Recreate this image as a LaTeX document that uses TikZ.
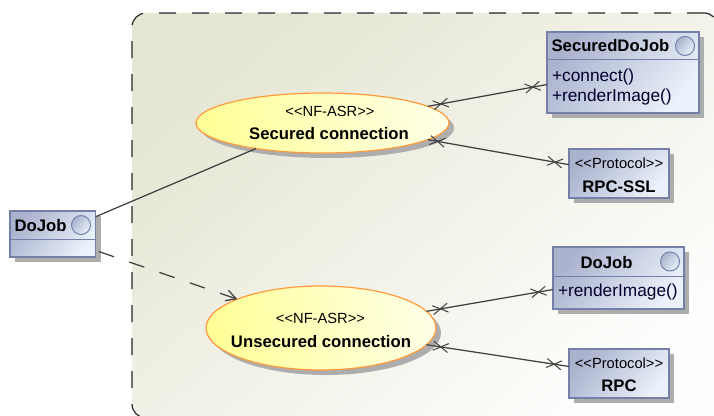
\documentclass[tikz,border=0pt]{standalone}
\usepackage{fontspec}
\setmainfont{Liberation Sans}
\usetikzlibrary{arrows.meta, shapes.geometric, shapes.misc, shadows}

\definecolor{boxdark}{HTML}{AAB2CE}
\definecolor{boxlight}{HTML}{EAF2FB}
\definecolor{boxline}{HTML}{7480A8}
\definecolor{linkcol}{HTML}{404040}
\definecolor{bgdark}{HTML}{E6E6D4}
\definecolor{bgmid}{HTML}{F3F3EA}
\definecolor{bglight}{HTML}{FDFDFC}
\definecolor{casedark}{HTML}{FFFF99}
\definecolor{caselight}{HTML}{FFFFE4}
\definecolor{caseline}{HTML}{FF9A3C}

\tikzset{
  every node/.style={inner sep=0pt, outer sep=0pt},
  boxshadow/.style={drop shadow={shadow xshift=5pt, shadow yshift=-5pt, fill=black!32, opacity=1}},
  classbox/.style={draw=boxline, line width=1.1pt, top color=boxdark, bottom color=boxlight, shading angle=50, boxshadow},
  usecase/.style={ellipse, draw=caseline, line width=1.2pt, left color=casedark, right color=caselight, shading angle=100, boxshadow},
  ballicon/.style={circle, draw=boxline, line width=1pt, minimum size=19pt, top color=boxdark, bottom color=boxlight, shading angle=50},
  tagtext/.style={font=\fontsize{14.7}{18}\selectfont, anchor=base},
  nametext/.style={font=\fontsize{16.7}{20}\selectfont\bfseries, anchor=base},
  titletext/.style={font=\fontsize{16.7}{20}\selectfont\bfseries},
  opstext/.style={font=\fontsize{17.3}{20}\selectfont, text=black!70!blue!60!black, align=left, anchor=west},
  link/.style={draw=linkcol, line width=1.25pt},
  crossmark/.style={cross out, draw=linkcol, line width=1pt, minimum width=15pt, minimum height=9pt, sloped, allow upside down}
}

\begin{document}
\begin{tikzpicture}[x=1pt, y=-1pt]
      \useasboundingbox (0, 0) rectangle (714, 415);

      \node [draw=black!85, line width=1.2pt, dash pattern=on 17pt off 16pt, rounded corners=14pt,
             top color=bgdark, middle color=bgmid, bottom color=bglight, shading angle=40,
             minimum width=586pt, minimum height=405pt] (boundary) at (425, 215.5) {};

      \node [usecase, minimum width=253pt, minimum height=60pt] (secured) at (322.5, 123) {};
      \node [tagtext] (securedtag) at (330, 116) {<{}<NF-ASR>{}>};
      \node [nametext] (securedname) at (329, 139) {Secured connection};

      \node [usecase, minimum width=230pt, minimum height=84pt] (unsecured) at (321, 328) {};
      \node [tagtext] (unsecuredtag) at (320.5, 323.5) {<{}<NF-ASR>{}>};
      \node [nametext] (unsecuredname) at (321, 347) {Unsecured connection};

      \node [classbox, minimum width=85.6pt, minimum height=46pt] (dojob) at (52.8, 234) {};
      \node [titletext] (dojobtitle) at (40.5, 226) {DoJob};
      \node [ballicon] (dojobball) at (81, 225) {};
      \draw [draw=boxline, line width=1pt] (dojob.west |- 0, 239) -- (dojob.east |- 0, 239);

      \node [classbox, minimum width=152pt, minimum height=81pt] (securedjob) at (623, 72.5) {};
      \node [titletext] (securedtitle) at (610.5, 46) {SecuredDoJob};
      \node [ballicon] (securedball) at (685, 46) {};
      \node [opstext] (securedops) at (552, 87.5) {+connect()\\+renderImage()};
      \draw [draw=boxline, line width=1pt] (securedjob.west |- 0, 59) -- (securedjob.east |- 0, 59);

      \node [classbox, minimum width=131pt, minimum height=62pt] (plainjob) at (618.5, 278) {};
      \node [titletext] (plaintitle) at (606.5, 263) {DoJob};
      \node [ballicon] (plainball) at (670, 261.5) {};
      \node [opstext] (plainops) at (558, 292.5) {+renderImage()};
      \draw [draw=boxline, line width=1pt] (plainjob.west |- 0, 276) -- (plainjob.east |- 0, 276);

      \node [classbox, minimum width=100pt, minimum height=49pt] (rpcssl) at (619, 173.5) {};
      \node [tagtext] (rpcssltag) at (619, 168) {<{}<Protocol>{}>};
      \node [nametext] (rpcsslname) at (619, 192) {RPC-SSL};

      \node [classbox, minimum width=100pt, minimum height=49pt] (rpc) at (619, 373.5) {};
      \node [tagtext] (rpctag) at (619, 368) {<{}<Protocol>{}>};
      \node [nametext] (rpcname) at (619, 391) {RPC};

      \draw [link] (dojob.22.7) -- (secured.201.8);
      \draw [link, dash pattern=on 16pt off 16pt, shorten <=3.5pt, -{Straight Barb[length=10pt, width=11pt]}] (dojob.339.5) -- (unsecured.161.4);

      \draw [link] (secured.9.8) -- node [crossmark, pos=0.11] (xa) {} node [crossmark, pos=0.88] (xb) {} (securedjob.189.3);
      \draw [link] (secured.351) -- node [crossmark, pos=0.07] (xc) {} node [crossmark, pos=0.9] (xd) {} (rpcssl.170.4);
      \draw [link] (unsecured.9.6) -- node [crossmark, pos=0.11] (xe) {} node [crossmark, pos=0.885] (xf) {} (plainjob.190.4);
      \draw [link] (unsecured.351) -- node [crossmark, pos=0.1] (xg) {} node [crossmark, pos=0.895] (xh) {} (rpc.172.6);
    \end{tikzpicture}
\end{document}
